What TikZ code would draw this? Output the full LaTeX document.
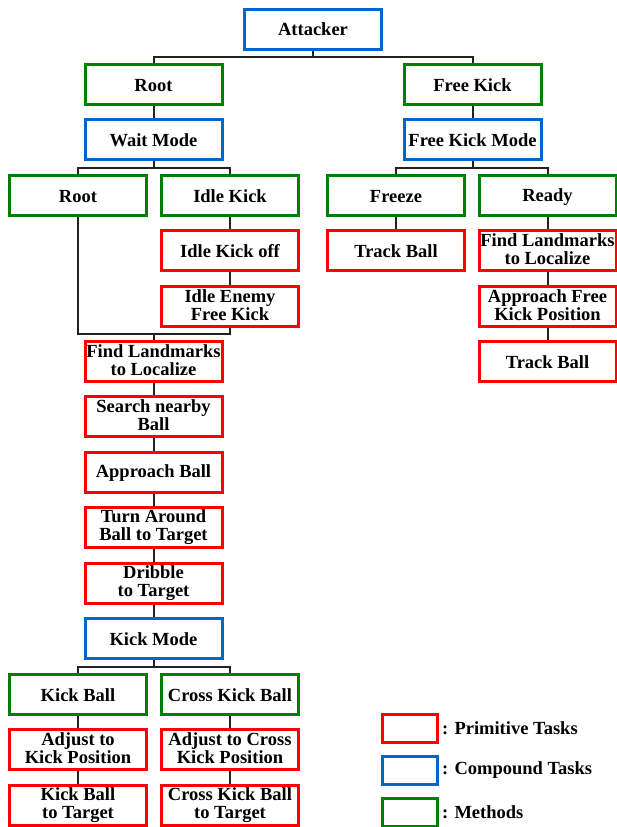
\documentclass[tikz,border=0pt]{standalone}
\usepackage{fontspec}
\setmainfont{Liberation Serif}
\definecolor{pred}{RGB}{255,0,0}
\definecolor{cblue}{RGB}{0,102,204}
\definecolor{mgreen}{RGB}{0,128,0}
\definecolor{conn}{RGB}{34,34,34}
\newcommand{\mystrut}{\rule[-2pt]{0pt}{17pt}}
\tikzset{
  box/.style={draw, line width=3pt, fill=white, minimum width=137pt, minimum height=40pt,
    inner sep=0pt, align=center, font=\fontsize{18.5}{18}\selectfont\bfseries,
    execute at begin node=\mystrut, execute at end node=\mystrut},
  prim/.style={box, draw=pred},
  comp/.style={box, draw=cblue},
  meth/.style={box, draw=mgreen},
  legbox/.style={draw, line width=3pt, minimum width=55pt, minimum height=28pt, inner sep=0pt},
  legtext/.style={anchor=west, inner sep=0pt, font=\fontsize{18.5}{18}\selectfont\bfseries},
  link/.style={draw=conn, line width=2pt}
}
\begin{document}
\begin{tikzpicture}[x=1pt,y=-1pt]
\useasboundingbox (0,0) rectangle (617,827);
% tree
\node[comp] (att) at (313,29) {Attacker};
\node[meth] (root1) at (153.5,84.5) {Root};
\node[meth] (fk) at (472.5,84.5) {Free Kick};
\node[comp] (wait) at (153.5,139.5) {Wait Mode};
\node[comp] (fkm) at (472.5,139.5) {Free Kick Mode};
\node[meth] (root2) at (78,195.5) {Root};
\node[meth] (idle) at (230,195.5) {Idle Kick};
\node[meth] (freeze) at (396,195.5) {Freeze};
\node[meth] (ready) at (547.5,195.5) {Ready};
\node[prim] (iko) at (230,250.5) {Idle Kick off};
\node[prim] (iefk) at (230,306.5) {Idle Enemy\\Free Kick};
\node[prim] (tb1) at (396,250.5) {Track Ball};
\node[prim] (fl2) at (547.5,250.5) {Find Landmarks\\to Localize};
\node[prim] (afk) at (547.5,306.5) {Approach Free\\Kick Position};
\node[prim] (tb2) at (547.5,361.5) {Track Ball};
\node[prim] (fl) at (153.5,361.5) {Find Landmarks\\to Localize};
\node[prim] (snb) at (153.5,416.5) {Search nearby\\Ball};
\node[prim] (ab) at (153.5,472) {Approach Ball};
\node[prim] (tab) at (153.5,527.5) {Turn Around\\Ball to Target};
\node[prim] (dt) at (153.5,583) {Dribble\\to Target};
\node[comp] (km) at (153.5,638.5) {Kick Mode};
\node[meth] (kb) at (78,694.5) {Kick Ball};
\node[meth] (ckb) at (230,694.5) {Cross Kick Ball};
\node[prim] (akp) at (78,749.5) {Adjust to\\Kick Position};
\node[prim] (ackp) at (230,749.5) {Adjust to Cross\\Kick Position};
\node[prim] (kbt) at (78,805) {Kick Ball\\to Target};
\node[prim] (ckbt) at (230,805) {Cross Kick Ball\\to Target};
% connectors
\coordinate (j1) at (313,56.5);
\path[link] (att.south) -- (j1);
\path[link] (j1) -| (root1.north);
\path[link] (j1) -| (fk.north);
\path[link] (root1.south) -- (wait.north);
\path[link] (fk.south) -- (fkm.north);
\coordinate (j2) at (153.5,167.5);
\path[link] (wait.south) -- (j2);
\path[link] (j2) -| (root2.north);
\path[link] (j2) -| (idle.north);
\coordinate (j3) at (472.5,167.5);
\path[link] (fkm.south) -- (j3);
\path[link] (j3) -| (freeze.north);
\path[link] (j3) -| (ready.north);
\path[link] (idle.south) -- (iko.north);
\path[link] (iko.south) -- (iefk.north);
\path[link] (freeze.south) -- (tb1.north);
\path[link] (ready.south) -- (fl2.north);
\path[link] (fl2.south) -- (afk.north);
\path[link] (afk.south) -- (tb2.north);
\coordinate (m) at (153.5,333.5);
\path[link] (root2.south) |- (m);
\path[link] (m) -| (iefk.south);
\path[link] (m) -- (fl.north);
\path[link] (fl.south) -- (snb.north);
\path[link] (snb.south) -- (ab.north);
\path[link] (ab.south) -- (tab.north);
\path[link] (tab.south) -- (dt.north);
\path[link] (dt.south) -- (km.north);
\coordinate (j4) at (153.5,666.5);
\path[link] (km.south) -- (j4);
\path[link] (j4) -| (kb.north);
\path[link] (j4) -| (ckb.north);
\path[link] (kb.south) -- (akp.north);
\path[link] (akp.south) -- (kbt.north);
\path[link] (ckb.south) -- (ackp.north);
\path[link] (ackp.south) -- (ckbt.north);
% legend
\node[legbox, draw=pred] (lp) at (410,728.5) {};
\node[legbox, draw=cblue] (lc) at (410,770.5) {};
\node[legbox, draw=mgreen] (lm) at (410,812) {};
\node[legtext] (tp) at ([xshift=3pt]lp.east) {: Primitive Tasks};
\node[legtext] (tc) at ([xshift=3pt]lc.east) {: Compound Tasks};
\node[legtext] (tm) at ([xshift=3pt]lm.east) {: Methods};
\end{tikzpicture}
\end{document}
